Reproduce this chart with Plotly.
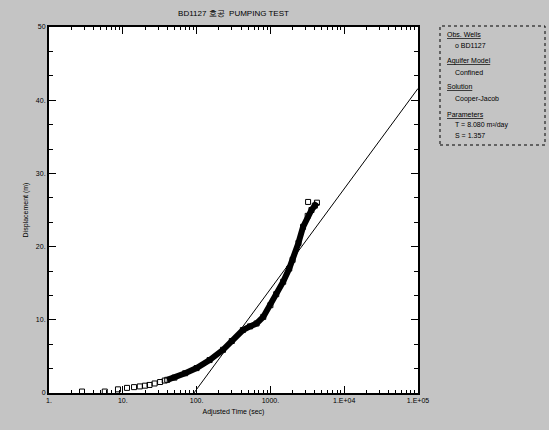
import plotly.graph_objects as go

# Observed drawdown (sparse early data)
t_early = [2.8, 5.7, 8.6, 11.4, 14.2, 17.0, 20.0, 23.0, 27.0, 32.0, 37.0]
s_early = [0.2, 0.2, 0.5, 0.7, 0.8, 0.9, 1.0, 1.1, 1.3, 1.5, 1.7]

# Observed drawdown (dense later data)
t_dense = [40, 50, 70, 100, 150, 228, 300, 424, 530, 650, 800, 1000, 1200,
           1490, 1800, 2000, 2400, 2770, 3200, 3600, 4000, 4270]
s_dense = [1.8, 2.1, 2.7, 3.4, 4.5, 5.9, 7.1, 8.6, 9.1, 9.5, 10.4, 12.0, 13.5,
           15.2, 17.0, 18.2, 20.5, 22.7, 24.2, 25.0, 25.6, 26.0]

# Outlier point
t_out = [3240]
s_out = [26.1]

# Cooper-Jacob fitted straight line
t_fit = [92, 100000]
s_fit = [0.0, 41.6]

x_tickvals = [1, 10, 100, 1000, 10000, 100000]
x_ticktext = ["1.", "10.", "100.", "1000.", "1.E+04", "1.E+05"]
y_tickvals = [0, 10, 20, 30, 40, 50]
y_ticktext = ["0", "10.", "20.", "30.", "40.", "50"]

title_text = "BD1127 호공  PUMPING TEST"
panel_lines = [
    ("<u>Obs. Wells</u>", 0),
    ("o BD1127", 1),
    ("<u>Aquifer Model</u>", 0),
    ("Confined", 1),
    ("<u>Solution</u>", 0),
    ("Cooper-Jacob", 1),
    ("<u>Parameters</u>", 0),
    ("T = 8.080 m²/day", 1),
    ("S = 1.357", 1),
]

FONT = "Liberation Sans, Arial, sans-serif"
L, R, T, B = 49, 131, 27, 37
W, H = 549, 430
PW, PH = W - L - R, H - T - B

x_minor = [m * 10 ** d for d in range(5) for m in range(2, 10)]
y_minor = [v for v in [i * 10 / 3 for i in range(16)] if all(abs(v - t) > 0.01 for t in y_tickvals)]

fig = go.Figure()

fig.add_trace(go.Scatter(x=t_fit, y=s_fit, mode="lines",
                         line=dict(color="black", width=1), showlegend=False))
fig.add_trace(go.Scatter(x=t_early, y=s_early, mode="markers",
                         marker=dict(symbol="square-open", size=5, color="black",
                                     line=dict(width=1)), showlegend=False))
fig.add_trace(go.Scatter(x=t_dense, y=s_dense, mode="lines+markers",
                         line=dict(color="black", width=6),
                         marker=dict(symbol="square-open", size=5, color="black",
                                     line=dict(width=1)), showlegend=False))
fig.add_trace(go.Scatter(x=t_out, y=s_out, mode="markers",
                         marker=dict(symbol="square-open", size=5, color="black",
                                     line=dict(width=1)), showlegend=False))

fig.update_layout(
    width=W, height=H,
    margin=dict(l=L, r=R, t=T, b=B, autoexpand=False),
    paper_bgcolor="#c4c4c4",
    plot_bgcolor="white",
    font=dict(family=FONT, size=7, color="black"),
    title=dict(text=title_text, x=(L + PW / 2) / W,
               xanchor="center", y=1 - 13 / H, yanchor="middle",
               font=dict(size=8, family=FONT)),
)

fig.update_xaxes(
    type="log", range=[0, 5], automargin=False,
    tickvals=x_tickvals, ticktext=x_ticktext,
    ticks="inside", ticklen=7, tickcolor="black", tickwidth=1,
    minor=dict(tickvals=x_minor, ticks="inside", ticklen=3, tickcolor="black", showgrid=False),
    showgrid=False, zeroline=False,
    showline=True, linecolor="black", linewidth=2, mirror="allticks",
    title=dict(text="Adjusted Time (sec)", standoff=6, font=dict(size=7)),
    tickfont=dict(size=7),
)
fig.update_yaxes(
    range=[0, 50], automargin=False,
    tickvals=y_tickvals, ticktext=y_ticktext,
    ticks="inside", ticklen=7, tickcolor="black", tickwidth=1,
    minor=dict(tickvals=y_minor, ticks="inside", ticklen=4, tickcolor="black", showgrid=False),
    showgrid=False, zeroline=False,
    showline=True, linecolor="black", linewidth=2, mirror="allticks",
    title=dict(text="Displacement (m)", standoff=6, font=dict(size=7)),
    tickfont=dict(size=7),
)

def px(xpix):
    return (xpix - L) / PW

def py(ypix):
    return (H - ypix - B) / PH

# Info panel on the right
fig.add_shape(type="rect", xref="paper", yref="paper",
              x0=px(440), x1=px(545), y0=py(145), y1=py(26),
              line=dict(color="black", width=1, dash="dot"), fillcolor="rgba(0,0,0,0)")

y_positions = [34, 46, 61, 72, 87, 99, 114, 125, 135]
for (txt, indent), ypix in zip(panel_lines, y_positions):
    xpix = 445 + (8 if indent else 0)
    fig.add_annotation(text=txt, xref="paper", yref="paper",
                       x=px(xpix), y=py(ypix),
                       xanchor="left", yanchor="middle", showarrow=False,
                       font=dict(size=7, family=FONT))

fig.write_html("out.html", config={"displayModeBar": False},
               post_script="document.body.style.margin='0';document.body.style.overflow='hidden';")
